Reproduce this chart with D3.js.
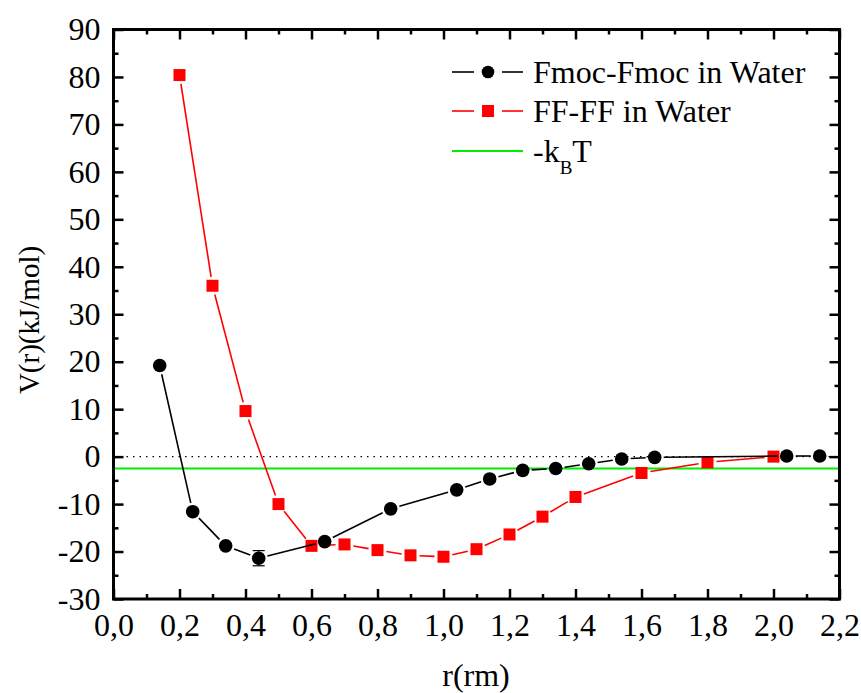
<!DOCTYPE html>
<html><head><meta charset="utf-8">
<script src="https://cdn.jsdelivr.net/npm/d3@7"></script>
<style>
html,body{margin:0;padding:0;background:#fff;}
svg{display:block;}
</style></head>
<body>
<svg id="chart" width="861" height="693" font-family="Liberation Serif"></svg>
<script>
// ---- data ----
const fmocR = [0.14, 0.24, 0.34, 0.44, 0.64, 0.84, 1.04, 1.14, 1.24, 1.34, 1.44, 1.54, 1.64, 2.04, 2.14];
const fmocV = [19.2, -11.6, -18.8, -21.4, -17.9, -11.0, -7.0, -4.7, -2.9, -2.5, -1.5, -0.5, -0.15, 0.13, 0.13];
const fmocErr = [0, 0, 0, 1.6, 0, 0, 0, 0, 0, 0, 0, 0, 0, 0, 0];
const ffR = [0.2, 0.3, 0.4, 0.5, 0.6, 0.7, 0.8, 0.9, 1.0, 1.1, 1.2, 1.3, 1.4, 1.6, 1.8, 2.0];
const ffV = [80.4, 36.0, 9.6, -10.0, -18.8, -18.5, -19.7, -20.8, -21.1, -19.5, -16.4, -12.65, -8.5, -3.45, -1.2, 0.0];
const kbT = -2.48;
const xTicks = [0, 0.2, 0.4, 0.6, 0.8, 1.0, 1.2, 1.4, 1.6, 1.8, 2.0, 2.2];
const yTicks = [-30, -20, -10, 0, 10, 20, 30, 40, 50, 60, 70, 80, 90];
const legendLabels = ["Fmoc-Fmoc in Water", "FF-FF in Water"];

const FONT = "Liberation Serif";

// ---- layout ----
const svg = d3.select("#chart");
const L = 113.5, R = 839.5, T = 29.5, B = 599;
const x = d3.scaleLinear().domain([0, 2.2]).range([L, R]);
const y = d3.scaleLinear().domain([-30, 90]).range([B, T]);
const fmtX = d => d.toFixed(1).replace(".", ",");
const fmtY = d => String(d);
const xMinor = d3.range(0.1, 2.2, 0.2);
const yMinor = d3.range(-25, 90, 10);

// reference lines
svg.append("line").attr("x1", L).attr("x2", R).attr("y1", y(0)).attr("y2", y(0))
  .attr("stroke", "#000").attr("stroke-width", 1.2).attr("stroke-dasharray", "1.5,5");
svg.append("line").attr("x1", L).attr("x2", R).attr("y1", y(kbT)).attr("y2", y(kbT))
  .attr("stroke", "#00ee00").attr("stroke-width", 2);

// line segments with gaps near markers
function seg(g, rs, vs, color, gap) {
  for (let i = 0; i < rs.length - 1; i++) {
    const x1 = x(rs[i]), y1 = y(vs[i]), x2 = x(rs[i+1]), y2 = y(vs[i+1]);
    const dx = x2 - x1, dy = y2 - y1, len = Math.hypot(dx, dy);
    if (len <= 2 * gap) continue;
    const ux = dx / len, uy = dy / len;
    g.append("line").attr("x1", x1 + ux*gap).attr("y1", y1 + uy*gap)
      .attr("x2", x2 - ux*gap).attr("y2", y2 - uy*gap)
      .attr("stroke", color).attr("stroke-width", 1.6);
  }
}
const gFF = svg.append("g");
seg(gFF, ffR, ffV, "#ff0000", 9);
gFF.selectAll("rect").data(ffR).join("rect")
  .attr("x", (d,i) => x(d) - 6).attr("y", (d,i) => y(ffV[i]) - 6)
  .attr("width", 12).attr("height", 12).attr("fill", "#ff0000");

const gF = svg.append("g");
seg(gF, fmocR, fmocV, "#000", 9);
fmocR.forEach((r, i) => {
  if (fmocErr[i] > 0) {
    const cx = x(r), yt = y(fmocV[i] + fmocErr[i]), yb = y(fmocV[i] - fmocErr[i]);
    gF.append("line").attr("x1", cx).attr("x2", cx).attr("y1", yt).attr("y2", yb).attr("stroke", "#000").attr("stroke-width", 1.2);
    [yt, yb].forEach(yy => gF.append("line").attr("x1", cx-6).attr("x2", cx+6).attr("y1", yy).attr("y2", yy).attr("stroke", "#000").attr("stroke-width", 1.2));
  }
});
gF.selectAll("circle").data(fmocR).join("circle")
  .attr("cx", d => x(d)).attr("cy", (d,i) => y(fmocV[i])).attr("r", 6.8).attr("fill", "#000");

// ---- axes ----
function styleAxis(g) {
  g.attr("font-family", FONT).attr("font-size", 32);
  g.select(".domain").remove();
  g.selectAll(".tick line").attr("stroke", "#000").attr("stroke-width", 2.5);
  g.selectAll("text").attr("font-family", FONT).attr("font-size", 32).attr("fill", "#000");
}
const axB = svg.append("g").attr("transform", `translate(0,${B})`)
  .call(d3.axisBottom(x).tickValues(xTicks).tickFormat(fmtX).tickSize(-10).tickPadding(14));
styleAxis(axB);
axB.selectAll("text").attr("dy", "0.71em");
svg.append("g").attr("transform", `translate(0,${B})`)
  .call(d3.axisBottom(x).tickValues(xMinor).tickFormat("").tickSize(-5)).call(styleAxis);
svg.append("g").attr("transform", `translate(0,${T})`)
  .call(d3.axisTop(x).tickValues(xTicks).tickFormat("").tickSize(-10)).call(styleAxis);
svg.append("g").attr("transform", `translate(0,${T})`)
  .call(d3.axisTop(x).tickValues(xMinor).tickFormat("").tickSize(-5)).call(styleAxis);

const axL = svg.append("g").attr("transform", `translate(${L},0)`)
  .call(d3.axisLeft(y).tickValues(yTicks).tickFormat(fmtY).tickSize(-10).tickPadding(13));
styleAxis(axL);
svg.append("g").attr("transform", `translate(${L},0)`)
  .call(d3.axisLeft(y).tickValues(yMinor).tickFormat("").tickSize(-5)).call(styleAxis);
svg.append("g").attr("transform", `translate(${R},0)`)
  .call(d3.axisRight(y).tickValues(yTicks).tickFormat("").tickSize(-10)).call(styleAxis);
svg.append("g").attr("transform", `translate(${R},0)`)
  .call(d3.axisRight(y).tickValues(yMinor).tickFormat("").tickSize(-5)).call(styleAxis);

// frame
svg.append("rect").attr("x", L).attr("y", T).attr("width", R - L).attr("height", B - T)
  .attr("fill", "none").attr("stroke", "#000").attr("stroke-width", 3);

// axis titles
svg.append("text").attr("x", 476).attr("y", 686).attr("text-anchor", "middle")
  .attr("font-family", FONT).attr("font-size", 32).text("r(rm)");
svg.append("text").attr("transform", `translate(39,320) rotate(-90)`)
  .attr("text-anchor", "middle").attr("font-family", FONT).attr("font-size", 29).text("V(r)(kJ/mol)");

// ---- legend ----
const lg = svg.append("g");
const lx1 = 452, lx2 = 523, lmid = 488, tx = 533;
const rows = [72, 111, 151];
lg.append("line").attr("x1", lx1).attr("x2", lmid - 14).attr("y1", rows[0]).attr("y2", rows[0]).attr("stroke", "#000").attr("stroke-width", 1.6);
lg.append("line").attr("x1", lmid + 14).attr("x2", lx2).attr("y1", rows[0]).attr("y2", rows[0]).attr("stroke", "#000").attr("stroke-width", 1.6);
lg.append("circle").attr("cx", lmid).attr("cy", rows[0]).attr("r", 6.3).attr("fill", "#000");
lg.append("line").attr("x1", lx1).attr("x2", lmid - 14).attr("y1", rows[1]).attr("y2", rows[1]).attr("stroke", "#ff0000").attr("stroke-width", 1.6);
lg.append("line").attr("x1", lmid + 14).attr("x2", lx2).attr("y1", rows[1]).attr("y2", rows[1]).attr("stroke", "#ff0000").attr("stroke-width", 1.6);
lg.append("rect").attr("x", lmid - 6).attr("y", rows[1] - 6).attr("width", 12).attr("height", 12).attr("fill", "#ff0000");
lg.append("line").attr("x1", lx1).attr("x2", lx2).attr("y1", rows[2]).attr("y2", rows[2]).attr("stroke", "#00ee00").attr("stroke-width", 2);

legendLabels.forEach((t, i) => {
  lg.append("text").attr("x", tx).attr("y", rows[i]).attr("dy", "0.35em")
    .attr("font-family", FONT).attr("font-size", 32).text(t);
});
const kt = lg.append("text").attr("x", tx).attr("y", rows[2]).attr("dy", "0.35em")
  .attr("font-family", FONT).attr("font-size", 32);
kt.append("tspan").text("-k");
kt.append("tspan").attr("dy", "12").attr("font-size", 19).text("B");
kt.append("tspan").attr("dy", "-12").text("T");
</script>
</body></html>
